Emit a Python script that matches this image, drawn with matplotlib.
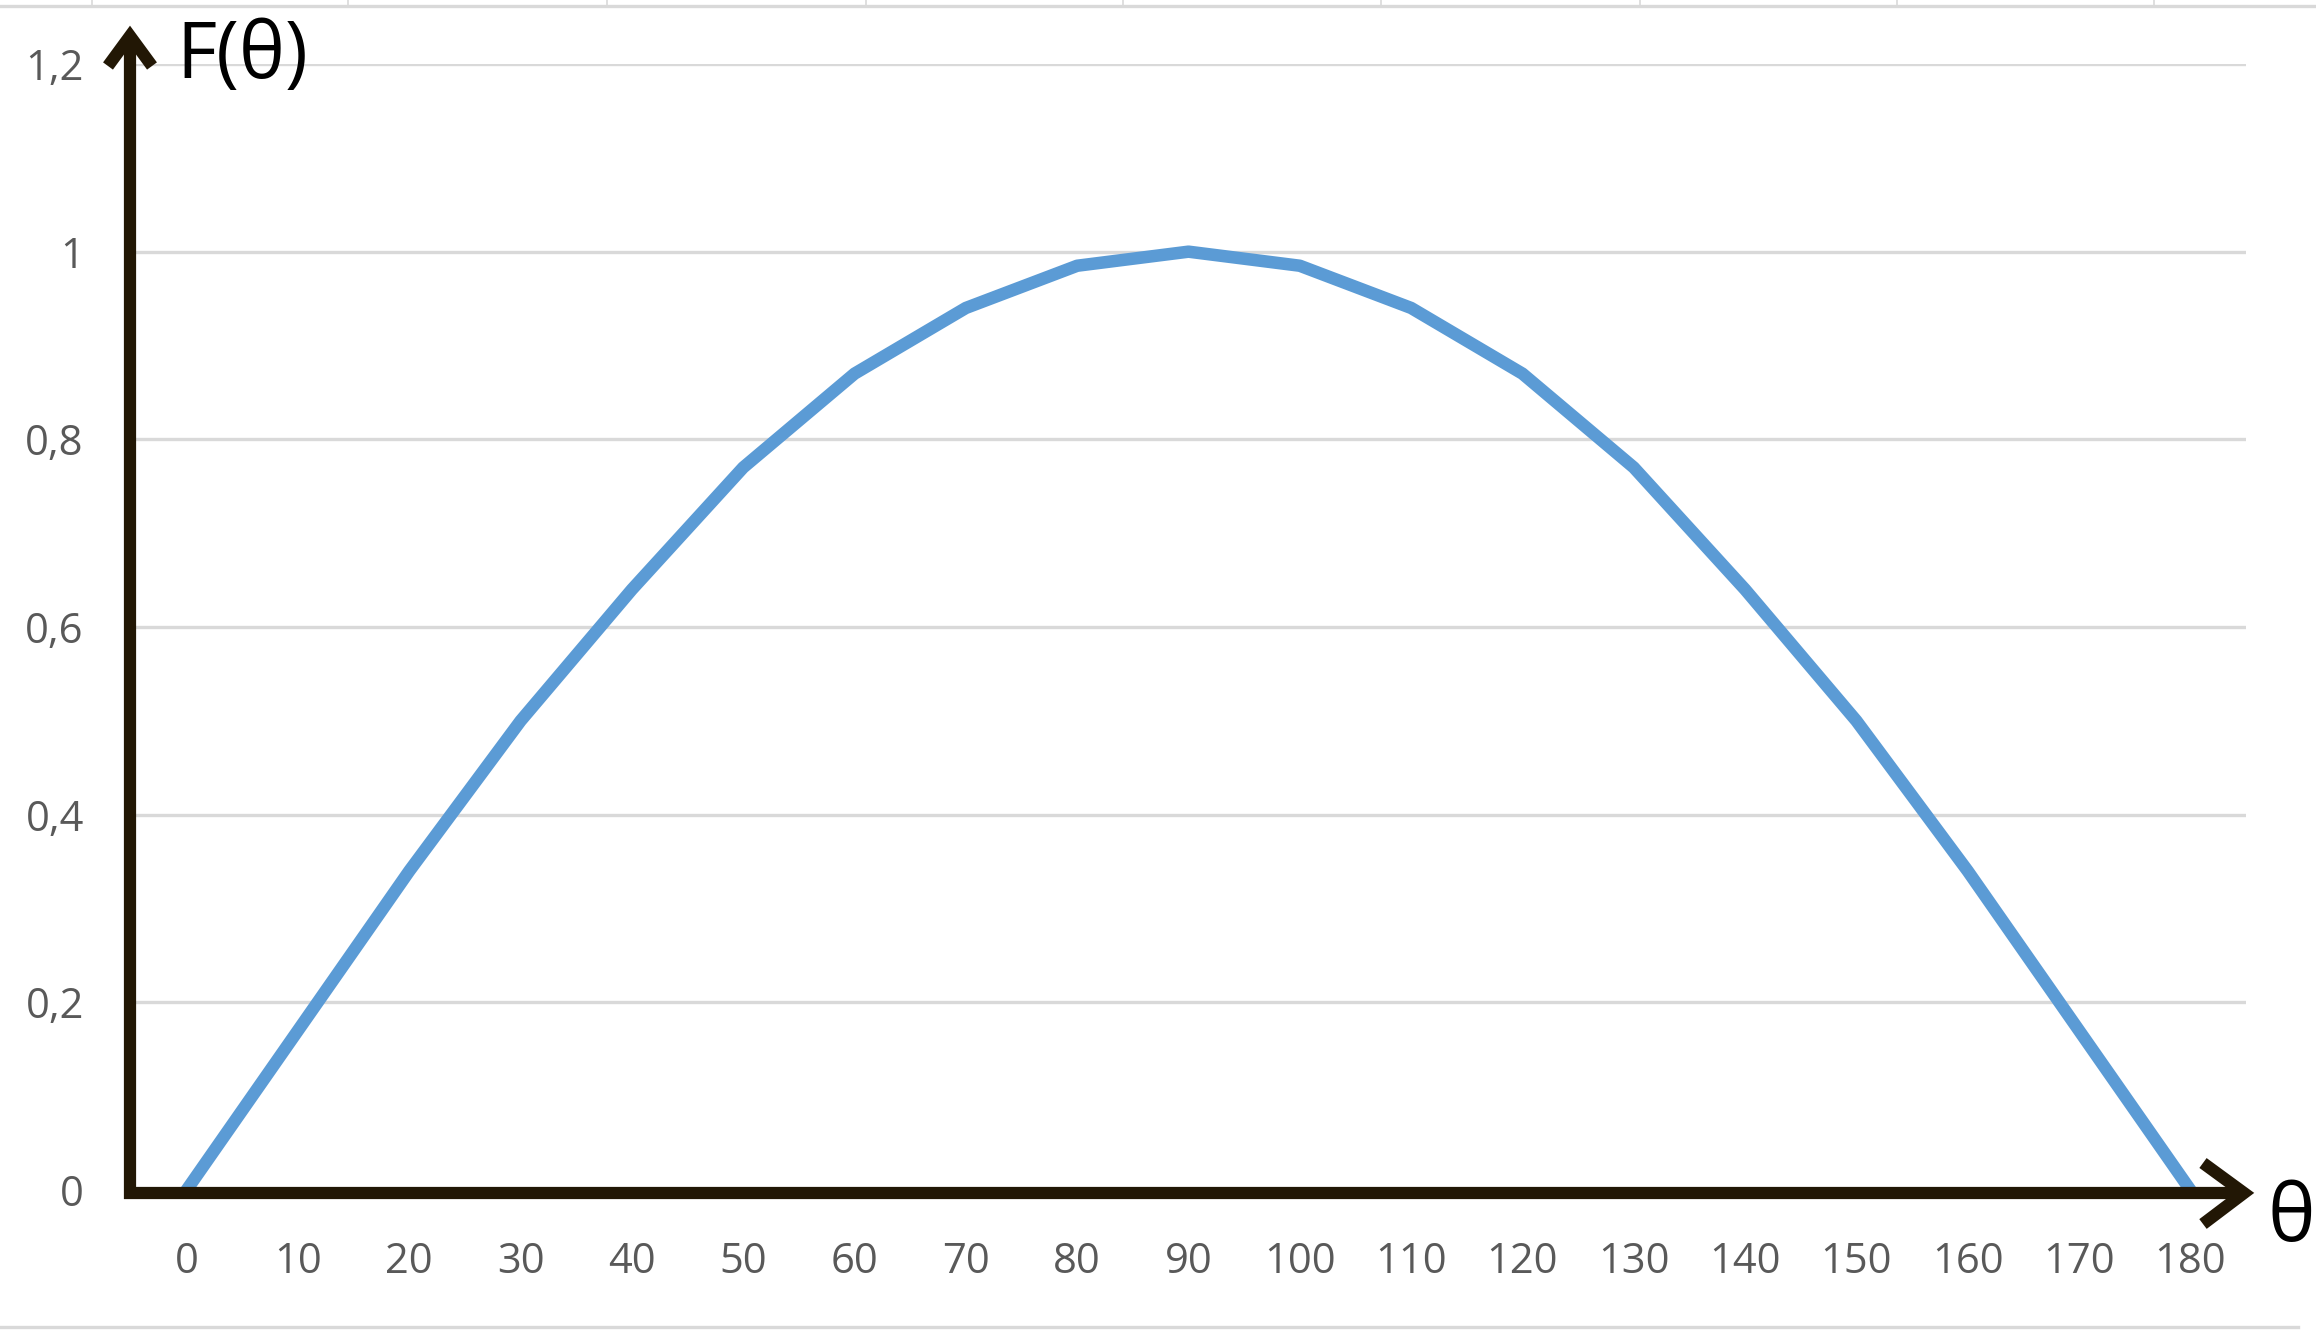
import matplotlib
matplotlib.use('Agg')
import matplotlib.pyplot as plt

# data (F = sin(theta), theta in degrees)
theta_labels = ['0', '10', '20', '30', '40', '50', '60', '70', '80', '90',
                '100', '110', '120', '130', '140', '150', '160', '170', '180']
f_values = [0, 0.17, 0.34, 0.5, 0.64, 0.77, 0.87, 0.94, 0.985, 1.0,
            0.985, 0.94, 0.87, 0.77, 0.64, 0.5, 0.34, 0.17, 0]
y_ticks = [0, 0.2, 0.4, 0.6, 0.8, 1.0, 1.2]
y_tick_labels = ['0', '0,2', '0,4', '0,6', '0,8', '1', '1,2']

W, H = 2316, 1330
BLUE = '#5B9BD5'
INK = '#221705'
GRID = '#D9D9D9'
LABEL = '#595959'
FONT = ['Open Sans', 'DejaVu Sans']

plt.rcParams['font.family'] = FONT

fig = plt.figure(figsize=(W / 100, H / 100), dpi=100)
fig.patch.set_facecolor('white')

# plot area in pixels: x 131..2246, y(1.2)=64 .. y(0)=1190
left, right, top, bottom = 131, 2246, 64, 1190
ax = fig.add_axes([left / W, 1 - bottom / H, (right - left) / W, (bottom - top) / H])

x = list(range(len(theta_labels)))
ax.plot(x, f_values, color=BLUE, lw=9, solid_joinstyle='round', zorder=3)

ax.set_xlim(-0.5, len(theta_labels) - 0.5)
ax.set_ylim(0, 1.2)
ax.set_yticks(y_ticks)
ax.set_yticklabels(y_tick_labels)
ax.set_xticks(x)
ax.set_xticklabels(theta_labels)
ax.grid(axis='y', color=GRID, lw=2.4)
ax.set_axisbelow(True)
for s in ax.spines.values():
    s.set_visible(False)
ax.tick_params(axis='both', length=0, labelsize=30, labelcolor=LABEL)
ax.tick_params(axis='x', pad=37)
ax.tick_params(axis='y', pad=34)

# overlay in pixel coords for the hand drawn arrows and sheet lines
ov = fig.add_axes([0, 0, 1, 1], zorder=5)
ov.set_xlim(0, W)
ov.set_ylim(H, 0)
ov.axis('off')
ov.patch.set_alpha(0)

# spreadsheet cell borders at top and bottom
ov.plot([0, W], [5.5, 5.5], color=GRID, lw=2.4)
for cx in [92, 348, 607, 866, 1123, 1381, 1640, 1897, 2154]:
    ov.plot([cx, cx], [0, 5], color=GRID, lw=1.2)
ov.plot([0, 2298], [1327, 1327], color=GRID, lw=2.4)

# axis arrows
aw = 8.8
ov.plot([130, 130], [1199, 36], color=INK, lw=aw, solid_capstyle='butt')
ov.plot([108, 130, 152], [66, 36, 66], color=INK, lw=aw,
        solid_joinstyle='miter', solid_capstyle='butt')
ov.plot([124, 2242], [1193, 1193], color=INK, lw=aw, solid_capstyle='butt')
ov.plot([2203, 2244, 2203], [1163, 1193, 1224], color=INK, lw=aw,
        solid_joinstyle='miter', solid_capstyle='butt')

ov.text(176, 78, 'F(θ)', fontsize=56, color='black', ha='left', va='baseline')
ov.text(2268, 1241, 'θ', fontsize=58, color='black', ha='left', va='baseline')

fig.savefig('out.png', dpi=100, facecolor='white')
